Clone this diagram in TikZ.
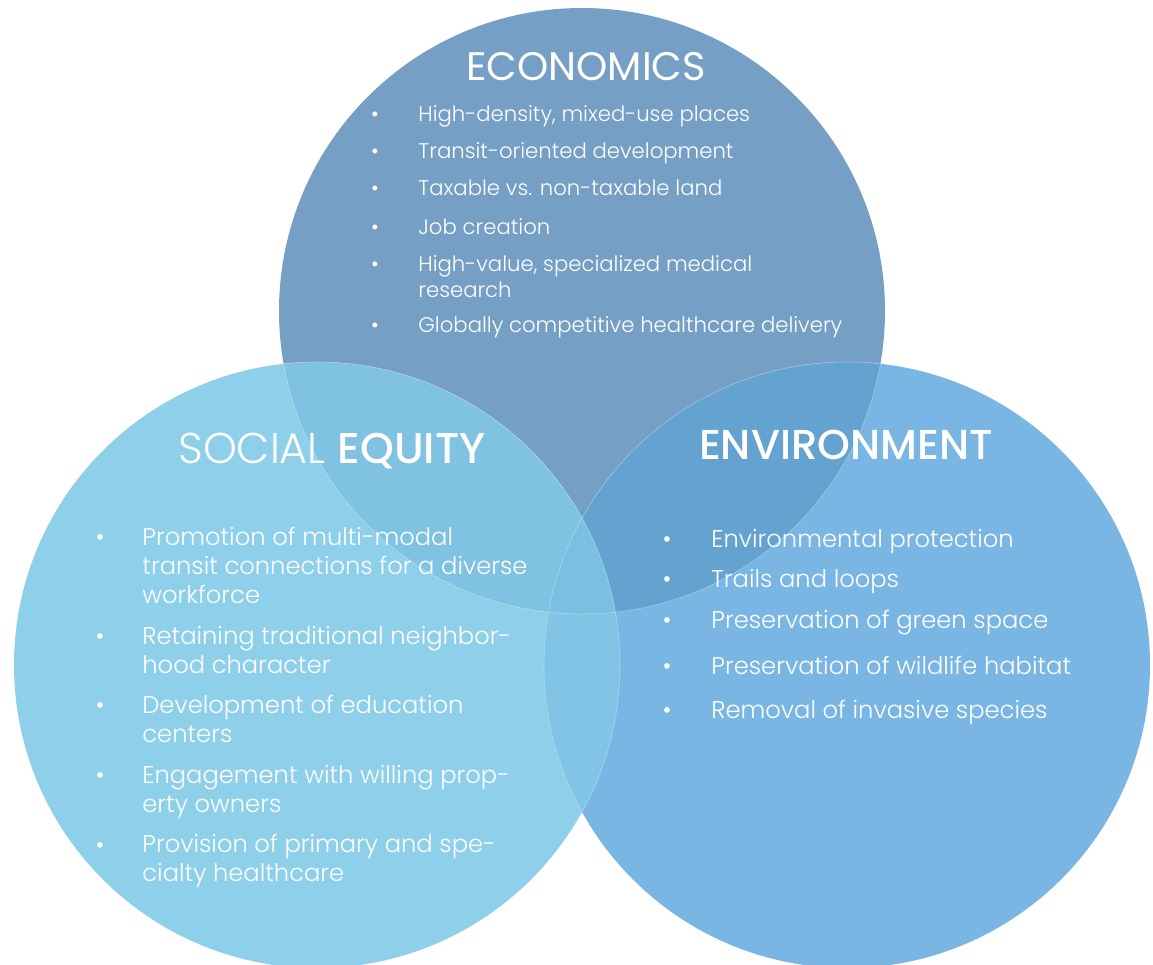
\documentclass[tikz,border=0pt]{standalone}
\usepackage{fontspec}
\setmainfont{Poppins}[UprightFont=* Light, BoldFont=* Medium]
\newfontfamily\regfont{Poppins}
\usetikzlibrary{positioning}
\definecolor{econblue}{RGB}{118, 159, 197}
\definecolor{socialblue}{RGB}{142, 207, 234}
\definecolor{envblue}{RGB}{122, 182, 227}
\definecolor{econsocial}{RGB}{128, 194, 225}
\definecolor{econenv}{RGB}{100, 163, 208}
\definecolor{socialenv}{RGB}{129, 196, 229}
\definecolor{allblue}{RGB}{123, 192, 226}
\newcommand{\econpath}{(582,311) circle[radius=151.5pt]}
\newcommand{\socialpath}{(317,665) circle[radius=151.5pt]}
\newcommand{\envpath}{(847,665) circle[radius=151.5pt]}
\tikzset{
  title/.style={anchor=base, text=white, inner sep=0pt, font=\fontsize{21}{24}\selectfont},
  econitem/.style={anchor=base west, align=left, text=white, inner sep=0pt, font=\fontsize{10.6}{13}\selectfont},
  biglist/.style={anchor=base west, align=left, text=white, inner sep=0pt, font=\fontsize{12.1}{14.5}\selectfont},
  dot/.style={anchor=base, text=white, inner sep=0pt}
}

\begin{document}
\begin{tikzpicture}[x=0.5pt, y=-0.5pt]
  \useasboundingbox (0,0) rectangle (1153,965);

  % The three circles
  \fill[econblue] \econpath;
  \fill[socialblue] \socialpath;
  \fill[envblue] \envpath;

  % Overlaps
  \begin{scope}
    \clip \econpath;
    \fill[econsocial] \socialpath;
    \fill[econenv] \envpath;
  \end{scope}
  \begin{scope}
    \clip \socialpath;
    \fill[socialenv] \envpath;
    \clip \envpath;
    \fill[allblue] \econpath;
  \end{scope}

  % Faint rims inside the overlaps
  \begin{scope}
    \clip \socialpath \envpath;
    \draw[white, opacity=0.35, line width=0.3pt] \econpath;
  \end{scope}
  \begin{scope}
    \clip \econpath \envpath;
    \draw[white, opacity=0.35, line width=0.3pt] \socialpath;
  \end{scope}
  \begin{scope}
    \clip \econpath \socialpath;
    \draw[white, opacity=0.35, line width=0.3pt] \envpath;
  \end{scope}

  % Economics (multi-line nodes sit on their last baseline)
  \node[title, font=\fontsize{19.9}{23}\selectfont] (econtitle) at (586,80) {\regfont ECONOMICS};
  \node[dot, font=\fontsize{10.6}{13}\selectfont] (eb1) at (375,121) {\textbullet};
  \node[econitem] (e1) at (418,121) {High-density, mixed-use places};
  \node[dot, font=\fontsize{10.6}{13}\selectfont] (eb2) at (375,158) {\textbullet};
  \node[econitem] (e2) at (418,158) {Transit-oriented development};
  \node[dot, font=\fontsize{10.6}{13}\selectfont] (eb3) at (375,195) {\textbullet};
  \node[econitem] (e3) at (418,195) {Taxable vs. non-taxable land};
  \node[dot, font=\fontsize{10.6}{13}\selectfont] (eb4) at (375,234) {\textbullet};
  \node[econitem] (e4) at (418,234) {Job creation};
  \node[dot, font=\fontsize{10.6}{13}\selectfont] (eb5) at (375,271) {\textbullet};
  \node[econitem] (e5) at (418,297) {High-value, specialized medical\\research};
  \node[dot, font=\fontsize{10.6}{13}\selectfont] (eb6) at (375,332) {\textbullet};
  \node[econitem] (e6) at (418,332) {Globally competitive healthcare delivery};

  % Social equity
  \node[title, font=\fontsize{21.5}{24}\selectfont] (socialtitle) at (332,463) {SOCIAL \textbf{EQUITY}};
  \node[dot, font=\fontsize{12.1}{14.5}\selectfont] (sb1) at (100,545) {\textbullet};
  \node[biglist] (s1) at (142,603) {Promotion of multi-modal\\transit connections for a diverse\\workforce};
  \node[dot, font=\fontsize{12.1}{14.5}\selectfont] (sb2) at (100,644) {\textbullet};
  \node[biglist] (s2) at (142,673) {Retaining traditional neighbor-\\hood character};
  \node[dot, font=\fontsize{12.1}{14.5}\selectfont] (sb3) at (100,713) {\textbullet};
  \node[biglist] (s3) at (142,742) {Development of education\\centers};
  \node[dot, font=\fontsize{12.1}{14.5}\selectfont] (sb4) at (100,783) {\textbullet};
  \node[biglist] (s4) at (142,812) {Engagement with willing prop-\\erty owners};
  \node[dot, font=\fontsize{12.1}{14.5}\selectfont] (sb5) at (100,853) {\textbullet};
  \node[biglist] (s5) at (142,881) {Provision of primary and spe-\\cialty healthcare};

  % Environment
  \node[title, font=\fontsize{20.9}{24}\selectfont] (envtitle) at (846,459) {\textbf{ENVIRONMENT}};
  \node[dot, font=\fontsize{12.1}{14.5}\selectfont] (vb1) at (667,547) {\textbullet};
  \node[biglist] (v1) at (711,547) {Environmental protection};
  \node[dot, font=\fontsize{12.1}{14.5}\selectfont] (vb2) at (667,587) {\textbullet};
  \node[biglist] (v2) at (711,587) {Trails and loops};
  \node[dot, font=\fontsize{12.1}{14.5}\selectfont] (vb3) at (667,628) {\textbullet};
  \node[biglist] (v3) at (711,628) {Preservation of green space};
  \node[dot, font=\fontsize{12.1}{14.5}\selectfont] (vb4) at (667,674) {\textbullet};
  \node[biglist] (v4) at (711,674) {Preservation of wildlife habitat};
  \node[dot, font=\fontsize{12.1}{14.5}\selectfont] (vb5) at (667,718) {\textbullet};
  \node[biglist] (v5) at (711,718) {Removal of invasive species};
\end{tikzpicture}
\end{document}
